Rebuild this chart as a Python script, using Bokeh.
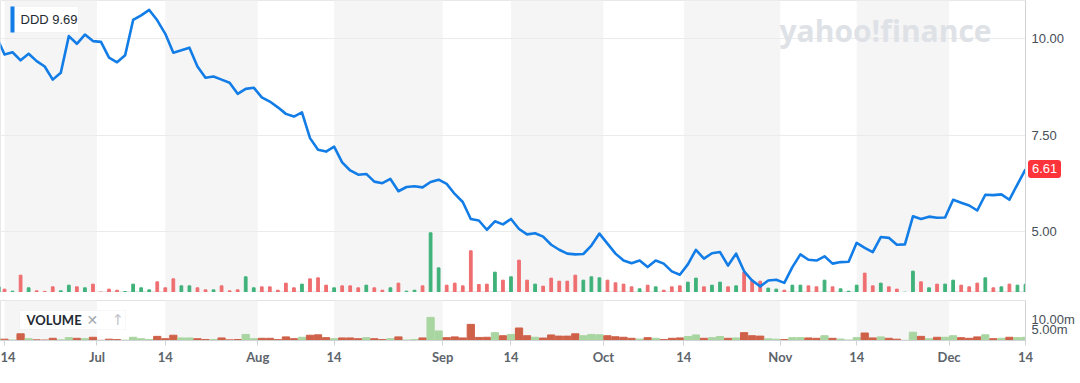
import numpy as np
import pandas as pd
from bokeh.plotting import figure
from bokeh.layouts import column
from bokeh.models import (Range1d, FixedTicker, NumeralTickFormatter,
                          BoxAnnotation, Label, ColumnDataSource, Div)
from bokeh.embed import file_html
from bokeh.resources import INLINE

# ---------------- data ----------------
symbol = "DDD"
legend_value = 9.69
holidays = ["2023-06-19", "2023-07-04", "2023-09-04", "2023-11-23"]
month_labels = ["Jul", "Aug", "Sep", "Oct", "Nov", "Dec"]

# daily closes, 13 Jun 2023 .. 14 Dec 2023 (trading days)
closes = [
    10.06,
    9.59, 9.65, 9.44, 9.61, 9.42, 9.28, 8.94, 9.12, 10.07, 9.87,
    10.11, 9.94, 9.92, 9.51, 9.39, 9.57, 10.49, 10.61, 10.75, 10.48,
    10.13, 9.64, 9.70, 9.77, 9.28, 8.99, 9.02, 8.94, 8.86, 8.57,
    8.70, 8.73, 8.48, 8.37, 8.22, 8.05, 7.98, 8.09, 7.42, 7.12,
    7.07, 7.20, 6.79, 6.58, 6.47, 6.49, 6.29, 6.25, 6.36, 6.04,
    6.15, 6.17, 6.14, 6.28, 6.34, 6.23, 5.97, 5.76, 5.32, 5.28,
    5.04, 5.26, 5.18, 5.32, 5.06, 4.92, 4.95, 4.86, 4.65, 4.52,
    4.42, 4.40, 4.41, 4.63, 4.94, 4.68, 4.42, 4.24, 4.17, 4.24,
    4.07, 4.24, 4.16, 3.96, 3.87, 4.14, 4.52, 4.29, 4.43, 4.46,
    4.11, 4.42, 3.96, 3.72, 3.57, 3.72, 3.74, 3.66, 4.07, 4.40,
    4.26, 4.24, 4.35, 4.16, 4.20, 4.21, 4.70, 4.57, 4.46, 4.85,
    4.83, 4.65, 4.66, 5.39, 5.32, 5.38, 5.35, 5.36, 5.82, 5.74,
    5.67, 5.54, 5.95, 5.94, 5.96, 5.82, 6.22, 6.61,
]

# daily volume, millions of shares
volumes_m = [
    1.00,
    0.61, 0.24, 3.15, 0.85, 0.30, 0.20, 1.03, 0.30, 1.33, 1.03,
    0.85, 1.52, 0.08, 0.61, 0.42, 0.18, 1.52, 0.85, 0.48, 1.94,
    0.85, 2.48, 1.21, 1.21, 0.85, 0.48, 0.48, 1.21, 0.30, 0.48,
    2.85, 0.85, 1.03, 1.03, 0.42, 1.70, 0.85, 1.52, 2.48, 2.67,
    1.33, 0.85, 1.21, 1.21, 0.85, 1.33, 0.85, 0.42, 0.85, 1.70,
    0.24, 0.42, 1.21, 10.85, 4.48, 1.33, 1.70, 1.21, 7.58, 1.45,
    1.52, 3.70, 2.24, 2.85, 5.88, 2.24, 1.52, 1.15, 2.61, 2.06,
    2.06, 3.15, 2.24, 2.85, 2.67, 2.24, 1.76, 1.52, 1.03, 0.67,
    1.33, 1.03, 0.42, 1.03, 1.21, 1.88, 2.61, 1.03, 1.33, 1.88,
    1.03, 1.21, 3.70, 2.24, 2.06, 0.79, 0.61, 0.42, 1.33, 1.33,
    1.21, 1.03, 2.24, 1.03, 0.67, 0.24, 1.33, 3.52, 1.21, 1.70,
    1.03, 0.61, 0.06, 3.88, 1.94, 0.85, 1.52, 1.52, 2.24, 1.33,
    1.03, 1.70, 2.67, 0.85, 1.03, 1.52, 1.33, 1.50,
]

dates = pd.bdate_range("2023-06-13", "2023-12-14")
dates = dates[~dates.isin(pd.to_datetime(holidays))]
assert len(dates) == len(closes) == len(volumes_m)

# ---------------- derived ----------------
x = np.arange(len(dates))
up = [True] + [closes[i] >= closes[i - 1] for i in range(1, len(closes))]
main_cols = ["#3fb27a" if u else "#ef6e70" for u in up]
low_cols = ["#a9d5a1" if u else "#cf6149" for u in up]

src = ColumnDataSource(dict(x=x, close=closes, vol=volumes_m,
                            c1=main_cols, c2=low_cols))

ticks, tick_text = [], []
month_start, mid_pos = {}, {}
for m in range(6, 13):
    in_m = [i for i, d in enumerate(dates) if d.month == m]
    if m > 6:
        month_start[m] = in_m[0] - 0.5
        ticks.append(month_start[m])
        tick_text.append(month_labels[m - 7])
    after = [i for i in in_m if dates[i].day >= 14]
    mid_pos[m] = after[0] if dates[after[0]].day == 14 else after[0] - 0.5
    ticks.append(float(mid_pos[m]))
    tick_text.append("14")
bands = [(mid_pos[m], month_start[m + 1]) for m in range(6, 12)]

# ---------------- figures ----------------
FW, FH = 1025, 292
Y0, Y1 = 3.41, 10.995
xr = Range1d(0.5, 128.0)
FONT_AX = "Liberation Sans"

p = figure(frame_width=FW, frame_height=FH, x_range=xr,
           y_range=Range1d(Y0, Y1),
           x_axis_location=None, y_axis_location="right",
           output_backend="svg", toolbar_location=None,
           min_border_left=0, min_border_top=0, min_border_bottom=0,
           min_border_right=55)
p.extra_y_ranges = {"vol": Range1d(0, 53.1)}
p.outline_line_color = "#e8e8e8"
p.background_fill_color = "white"
p.border_fill_color = "white"
p.xgrid.visible = False
p.yaxis.ticker = FixedTicker(ticks=[5, 7.5, 10])
p.yaxis.formatter = NumeralTickFormatter(format="0.00")
p.yaxis.axis_line_color = "#cfd3d6"
p.yaxis.major_tick_line_color = None
p.yaxis.major_tick_out = 0
p.yaxis.major_tick_in = 0
p.yaxis.minor_tick_line_color = None
p.yaxis.minor_tick_out = 0
p.yaxis.major_label_standoff = 6
p.yaxis.major_label_text_font = FONT_AX
p.yaxis.major_label_text_font_size = "13px"
p.yaxis.major_label_text_color = "#464e56"
p.ygrid.grid_line_color = "#ebebeb"

q = figure(frame_width=FW, frame_height=40, x_range=xr,
           y_range=Range1d(0, 18.8),
           y_axis_location="right", output_backend="svg",
           toolbar_location=None, min_border_left=0, min_border_top=8,
           min_border_bottom=43, min_border_right=55)
q.outline_line_color = "#e3e3e3"
q.background_fill_color = "white"
q.border_fill_color = "white"
q.xgrid.visible = False
q.ygrid.visible = False
q.yaxis.ticker = FixedTicker(ticks=[5, 10])
q.yaxis.major_label_overrides = {5: "5.00m", 10: "10.00m"}
q.yaxis.axis_line_color = "#cfd3d6"
q.yaxis.major_tick_line_color = None
q.yaxis.major_tick_out = 0
q.yaxis.major_tick_in = 0
q.yaxis.minor_tick_line_color = None
q.yaxis.minor_tick_out = 0
q.yaxis.major_label_standoff = 6
q.yaxis.major_label_text_font = FONT_AX
q.yaxis.major_label_text_font_size = "13px"
q.yaxis.major_label_text_color = "#464e56"
q.xaxis.ticker = FixedTicker(ticks=ticks)
q.xaxis.major_label_overrides = {t: s for t, s in zip(ticks, tick_text)}
q.xaxis.axis_line_color = "#cfd3d6"
q.xaxis.major_tick_line_color = "#cfd3d6"
q.xaxis.major_tick_out = 5
q.xaxis.major_tick_in = 0
q.xaxis.minor_tick_line_color = None
q.xaxis.major_label_standoff = 3
q.xaxis.major_label_text_font = "Lato"
q.xaxis.major_label_text_font_size = "13px"
q.xaxis.major_label_text_font_style = "bold"
q.xaxis.major_label_text_color = "#5d646b"

for fig in (p, q):
    for a, b in bands:
        fig.add_layout(BoxAnnotation(left=a, right=b, fill_color="#f5f5f5",
                                     fill_alpha=1.0, line_color=None,
                                     level="image"))

# volume bars
p.vbar(x="x", top="vol", width=0.34, color="c1", source=src,
       y_range_name="vol")
q.vbar(x="x", top="vol", width=0.9, color="c2", source=src)

# price line
p.line(x="x", y="close", source=src, line_width=2.6, color="#127de6",
       line_join="round")

# watermark
p.add_layout(Label(x=779, y=262, x_units="screen", y_units="screen",
                   text="yahoo!finance", text_font="Open Sans",
                   text_font_style="bold", text_font_size="30px",
                   text_color="#dee2e7", text_baseline="alphabetic"))

# legend chip
p.add_layout(BoxAnnotation(left=10, right=78, bottom=260, top=286,
                           left_units="screen", right_units="screen",
                           bottom_units="screen", top_units="screen",
                           fill_color="white", fill_alpha=1.0,
                           line_color="#e6e6e6", level="overlay"))
p.add_layout(BoxAnnotation(left=10, right=14, bottom=260, top=286,
                           left_units="screen", right_units="screen",
                           bottom_units="screen", top_units="screen",
                           fill_color="#127de6", fill_alpha=1.0,
                           line_color=None, level="overlay"))
p.add_layout(Label(x=20, y=273, x_units="screen", y_units="screen",
                   text=f"{symbol} {legend_value:.2f}", text_font=FONT_AX,
                   text_font_size="13px", text_color="#232a31",
                   text_baseline="middle", level="overlay"))

# volume chip
q.add_layout(BoxAnnotation(left=19, right=125, bottom=11, top=30,
                           left_units="screen", right_units="screen",
                           bottom_units="screen", top_units="screen",
                           fill_color="white", fill_alpha=1.0,
                           line_color="#e6e6e6", level="overlay"))
q.add_layout(Label(x=26, y=20.5, x_units="screen", y_units="screen",
                   text="VOLUME", text_font="Lato", text_font_style="bold",
                   text_font_size="13px", text_color="#232a31",
                   text_baseline="middle", level="overlay"))
q.add_layout(Label(x=86, y=20.5, x_units="screen", y_units="screen",
                   text="✕", text_font="DejaVu Sans", text_font_size="14px",
                   text_color="#a3a8ad", text_baseline="middle",
                   level="overlay"))
q.add_layout(Label(x=111, y=20.5, x_units="screen", y_units="screen",
                   text="↑", text_font="DejaVu Sans", text_font_size="15px",
                   text_color="#c3c7cb", text_baseline="middle",
                   level="overlay"))

# last-price tag, sitting on the price axis at the last close
last = closes[-1]
tag_y = (Y1 - last) / (Y1 - Y0) * FH
tag = Div(text=f"{last:.2f}",
          styles={"position": "absolute", "left": f"{FW - 2}px",
                  "top": f"{round(tag_y - 14)}px", "height": "18px",
                  "line-height": "18px", "padding": "0px 4px",
                  "background-color": "#ff333a", "color": "white",
                  "font-family": "'Liberation Sans', sans-serif",
                  "font-size": "13px", "border-radius": "3px",
                  "z-index": "10"})

layout = column(p, q, tag, spacing=0)

open("out.html", "w").write(file_html(layout, INLINE))
